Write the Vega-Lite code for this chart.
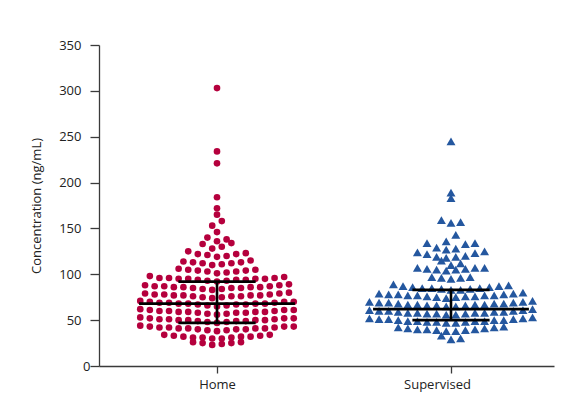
{
  "$schema": "https://vega.github.io/schema/vega-lite/v6.json",
  "width": 455,
  "height": 321,
  "autosize": {"type": "none"},
  "padding": {"left": 99, "top": 45, "right": 22, "bottom": 39},
  "background": "white",
  "config": {
    "view": {"stroke": null},
    "font": "Open Sans",
    "axis": {"grid": false, "domainColor": "#3a3a3a", "tickColor": "#3a3a3a", "labelColor": "#222222", "titleColor": "#222222", "domainWidth": 1.3, "tickWidth": 1.3, "labelFont": "Open Sans", "titleFont": "Open Sans"},
    "axisY": {"tickSize": 9, "labelFontSize": 13, "titleFontSize": 13, "titleFontWeight": "normal", "titlePadding": 15},
    "axisX": {"tickSize": 7, "labelFontSize": 13, "labelPadding": 5}
  },
  "datasets": {
    "summary": [
      {"group": "Home", "median": 68, "q1": 47, "q3": 92},
      {"group": "Supervised", "median": 62, "q1": 50, "q3": 83}
    ],
    "points": [
      {"group": "Home", "value": 23}, {"group": "Home", "value": 24}, {"group": "Home", "value": 25}, {"group": "Home", "value": 25}, {"group": "Home", "value": 26}, {"group": "Home", "value": 26},
      {"group": "Home", "value": 30}, {"group": "Home", "value": 30}, {"group": "Home", "value": 31}, {"group": "Home", "value": 31}, {"group": "Home", "value": 31}, {"group": "Home", "value": 32}, {"group": "Home", "value": 32}, {"group": "Home", "value": 32}, {"group": "Home", "value": 33}, {"group": "Home", "value": 33}, {"group": "Home", "value": 34}, {"group": "Home", "value": 34},
      {"group": "Home", "value": 38}, {"group": "Home", "value": 39}, {"group": "Home", "value": 39}, {"group": "Home", "value": 40}, {"group": "Home", "value": 40}, {"group": "Home", "value": 40}, {"group": "Home", "value": 41}, {"group": "Home", "value": 41}, {"group": "Home", "value": 41}, {"group": "Home", "value": 41}, {"group": "Home", "value": 42}, {"group": "Home", "value": 42}, {"group": "Home", "value": 42}, {"group": "Home", "value": 43}, {"group": "Home", "value": 43}, {"group": "Home", "value": 43}, {"group": "Home", "value": 44},
      {"group": "Home", "value": 47}, {"group": "Home", "value": 48}, {"group": "Home", "value": 48}, {"group": "Home", "value": 49}, {"group": "Home", "value": 49}, {"group": "Home", "value": 49}, {"group": "Home", "value": 50}, {"group": "Home", "value": 50}, {"group": "Home", "value": 50}, {"group": "Home", "value": 50}, {"group": "Home", "value": 51}, {"group": "Home", "value": 51}, {"group": "Home", "value": 51}, {"group": "Home", "value": 52}, {"group": "Home", "value": 52}, {"group": "Home", "value": 52}, {"group": "Home", "value": 53},
      {"group": "Home", "value": 56}, {"group": "Home", "value": 57}, {"group": "Home", "value": 57}, {"group": "Home", "value": 58}, {"group": "Home", "value": 58}, {"group": "Home", "value": 58}, {"group": "Home", "value": 59}, {"group": "Home", "value": 59}, {"group": "Home", "value": 59}, {"group": "Home", "value": 59}, {"group": "Home", "value": 60}, {"group": "Home", "value": 60}, {"group": "Home", "value": 60}, {"group": "Home", "value": 61}, {"group": "Home", "value": 61}, {"group": "Home", "value": 61}, {"group": "Home", "value": 62},
      {"group": "Home", "value": 65}, {"group": "Home", "value": 66}, {"group": "Home", "value": 66}, {"group": "Home", "value": 67}, {"group": "Home", "value": 67}, {"group": "Home", "value": 67}, {"group": "Home", "value": 68}, {"group": "Home", "value": 68}, {"group": "Home", "value": 68}, {"group": "Home", "value": 68}, {"group": "Home", "value": 69}, {"group": "Home", "value": 69}, {"group": "Home", "value": 69}, {"group": "Home", "value": 70}, {"group": "Home", "value": 70}, {"group": "Home", "value": 70}, {"group": "Home", "value": 71},
      {"group": "Home", "value": 74}, {"group": "Home", "value": 75}, {"group": "Home", "value": 75}, {"group": "Home", "value": 76}, {"group": "Home", "value": 76}, {"group": "Home", "value": 76}, {"group": "Home", "value": 77}, {"group": "Home", "value": 77}, {"group": "Home", "value": 77}, {"group": "Home", "value": 77}, {"group": "Home", "value": 78}, {"group": "Home", "value": 78}, {"group": "Home", "value": 78}, {"group": "Home", "value": 79}, {"group": "Home", "value": 79}, {"group": "Home", "value": 80},
      {"group": "Home", "value": 83}, {"group": "Home", "value": 84}, {"group": "Home", "value": 84}, {"group": "Home", "value": 85}, {"group": "Home", "value": 85}, {"group": "Home", "value": 85}, {"group": "Home", "value": 86}, {"group": "Home", "value": 86}, {"group": "Home", "value": 86}, {"group": "Home", "value": 86}, {"group": "Home", "value": 87}, {"group": "Home", "value": 87}, {"group": "Home", "value": 87}, {"group": "Home", "value": 88}, {"group": "Home", "value": 88}, {"group": "Home", "value": 89},
      {"group": "Home", "value": 92}, {"group": "Home", "value": 93}, {"group": "Home", "value": 93}, {"group": "Home", "value": 94}, {"group": "Home", "value": 94}, {"group": "Home", "value": 94}, {"group": "Home", "value": 95}, {"group": "Home", "value": 95}, {"group": "Home", "value": 95}, {"group": "Home", "value": 95}, {"group": "Home", "value": 96}, {"group": "Home", "value": 96}, {"group": "Home", "value": 96}, {"group": "Home", "value": 97}, {"group": "Home", "value": 98},
      {"group": "Home", "value": 101}, {"group": "Home", "value": 102}, {"group": "Home", "value": 103}, {"group": "Home", "value": 103}, {"group": "Home", "value": 104}, {"group": "Home", "value": 104}, {"group": "Home", "value": 105}, {"group": "Home", "value": 105}, {"group": "Home", "value": 106},
      {"group": "Home", "value": 110}, {"group": "Home", "value": 111}, {"group": "Home", "value": 112}, {"group": "Home", "value": 112}, {"group": "Home", "value": 113}, {"group": "Home", "value": 113}, {"group": "Home", "value": 114}, {"group": "Home", "value": 115},
      {"group": "Home", "value": 119}, {"group": "Home", "value": 120}, {"group": "Home", "value": 121}, {"group": "Home", "value": 122}, {"group": "Home", "value": 122}, {"group": "Home", "value": 123}, {"group": "Home", "value": 125},
      {"group": "Home", "value": 128}, {"group": "Home", "value": 130}, {"group": "Home", "value": 133}, {"group": "Home", "value": 134},
      {"group": "Home", "value": 136}, {"group": "Home", "value": 138}, {"group": "Home", "value": 140},
      {"group": "Home", "value": 146}, {"group": "Home", "value": 153}, {"group": "Home", "value": 158}, {"group": "Home", "value": 165}, {"group": "Home", "value": 172}, {"group": "Home", "value": 184}, {"group": "Home", "value": 221}, {"group": "Home", "value": 234}, {"group": "Home", "value": 303},

      {"group": "Supervised", "value": 29}, {"group": "Supervised", "value": 30}, {"group": "Supervised", "value": 33},
      {"group": "Supervised", "value": 38}, {"group": "Supervised", "value": 38}, {"group": "Supervised", "value": 39}, {"group": "Supervised", "value": 39}, {"group": "Supervised", "value": 40}, {"group": "Supervised", "value": 40}, {"group": "Supervised", "value": 40}, {"group": "Supervised", "value": 41}, {"group": "Supervised", "value": 41}, {"group": "Supervised", "value": 42}, {"group": "Supervised", "value": 42}, {"group": "Supervised", "value": 43},
      {"group": "Supervised", "value": 47}, {"group": "Supervised", "value": 47}, {"group": "Supervised", "value": 48}, {"group": "Supervised", "value": 48}, {"group": "Supervised", "value": 48}, {"group": "Supervised", "value": 49}, {"group": "Supervised", "value": 49}, {"group": "Supervised", "value": 49}, {"group": "Supervised", "value": 49}, {"group": "Supervised", "value": 50}, {"group": "Supervised", "value": 50}, {"group": "Supervised", "value": 50}, {"group": "Supervised", "value": 51}, {"group": "Supervised", "value": 51}, {"group": "Supervised", "value": 51}, {"group": "Supervised", "value": 52}, {"group": "Supervised", "value": 52}, {"group": "Supervised", "value": 53},
      {"group": "Supervised", "value": 56}, {"group": "Supervised", "value": 56}, {"group": "Supervised", "value": 57}, {"group": "Supervised", "value": 57}, {"group": "Supervised", "value": 57}, {"group": "Supervised", "value": 58}, {"group": "Supervised", "value": 58}, {"group": "Supervised", "value": 58}, {"group": "Supervised", "value": 58}, {"group": "Supervised", "value": 59}, {"group": "Supervised", "value": 59}, {"group": "Supervised", "value": 59}, {"group": "Supervised", "value": 60}, {"group": "Supervised", "value": 60}, {"group": "Supervised", "value": 60}, {"group": "Supervised", "value": 61}, {"group": "Supervised", "value": 61}, {"group": "Supervised", "value": 62},
      {"group": "Supervised", "value": 65}, {"group": "Supervised", "value": 65}, {"group": "Supervised", "value": 66}, {"group": "Supervised", "value": 66}, {"group": "Supervised", "value": 66}, {"group": "Supervised", "value": 67}, {"group": "Supervised", "value": 67}, {"group": "Supervised", "value": 67}, {"group": "Supervised", "value": 67}, {"group": "Supervised", "value": 68}, {"group": "Supervised", "value": 68}, {"group": "Supervised", "value": 68}, {"group": "Supervised", "value": 69}, {"group": "Supervised", "value": 69}, {"group": "Supervised", "value": 69}, {"group": "Supervised", "value": 70}, {"group": "Supervised", "value": 70}, {"group": "Supervised", "value": 71},
      {"group": "Supervised", "value": 74}, {"group": "Supervised", "value": 75}, {"group": "Supervised", "value": 75}, {"group": "Supervised", "value": 76}, {"group": "Supervised", "value": 76}, {"group": "Supervised", "value": 76}, {"group": "Supervised", "value": 77}, {"group": "Supervised", "value": 77}, {"group": "Supervised", "value": 77}, {"group": "Supervised", "value": 77}, {"group": "Supervised", "value": 78}, {"group": "Supervised", "value": 78}, {"group": "Supervised", "value": 78}, {"group": "Supervised", "value": 79}, {"group": "Supervised", "value": 79}, {"group": "Supervised", "value": 80},
      {"group": "Supervised", "value": 83}, {"group": "Supervised", "value": 83}, {"group": "Supervised", "value": 84}, {"group": "Supervised", "value": 84}, {"group": "Supervised", "value": 85}, {"group": "Supervised", "value": 85}, {"group": "Supervised", "value": 85}, {"group": "Supervised", "value": 86}, {"group": "Supervised", "value": 86}, {"group": "Supervised", "value": 87}, {"group": "Supervised", "value": 87}, {"group": "Supervised", "value": 88}, {"group": "Supervised", "value": 89},
      {"group": "Supervised", "value": 95}, {"group": "Supervised", "value": 96}, {"group": "Supervised", "value": 96}, {"group": "Supervised", "value": 97}, {"group": "Supervised", "value": 97},
      {"group": "Supervised", "value": 104}, {"group": "Supervised", "value": 105}, {"group": "Supervised", "value": 105}, {"group": "Supervised", "value": 106}, {"group": "Supervised", "value": 106}, {"group": "Supervised", "value": 107}, {"group": "Supervised", "value": 107}, {"group": "Supervised", "value": 107},
      {"group": "Supervised", "value": 110}, {"group": "Supervised", "value": 112}, {"group": "Supervised", "value": 115},
      {"group": "Supervised", "value": 118}, {"group": "Supervised", "value": 119}, {"group": "Supervised", "value": 119}, {"group": "Supervised", "value": 120}, {"group": "Supervised", "value": 122}, {"group": "Supervised", "value": 123}, {"group": "Supervised", "value": 124}, {"group": "Supervised", "value": 125},
      {"group": "Supervised", "value": 127}, {"group": "Supervised", "value": 128}, {"group": "Supervised", "value": 129}, {"group": "Supervised", "value": 133}, {"group": "Supervised", "value": 134}, {"group": "Supervised", "value": 134},
      {"group": "Supervised", "value": 136}, {"group": "Supervised", "value": 143},
      {"group": "Supervised", "value": 156}, {"group": "Supervised", "value": 157}, {"group": "Supervised", "value": 159},
      {"group": "Supervised", "value": 183}, {"group": "Supervised", "value": 189}, {"group": "Supervised", "value": 245}
    ]
  },
  "layer": [
    {
      "data": {"name": "points"},
      "transform": [
        {"calculate": "floor(datum.value / 9)", "as": "row"},
        {"window": [{"op": "row_number", "as": "r"}], "groupby": ["group", "row"], "sort": [{"field": "value", "order": "ascending"}]},
        {"joinaggregate": [{"op": "count", "as": "n"}], "groupby": ["group", "row"]},
        {"calculate": "(datum.r - 1) % 2 == 1 ? datum.r / 2 : -(datum.r - 1) / 2", "as": "k"},
        {"calculate": "(datum.group == 'Home' ? 1 : 2) + (datum.k - (datum.n % 2 == 0 ? 0.5 : 0)) * 0.041", "as": "xpos"}
      ],
      "mark": {"type": "point", "filled": true, "opacity": 1, "strokeWidth": 0},
      "encoding": {
        "x": {"field": "xpos", "type": "quantitative", "scale": {"domain": [0.4957, 2.4402]}, "axis": {"values": [1, 2], "labelExpr": "datum.value == 1 ? 'Home' : 'Supervised'", "title": null, "labelOffset": {"condition": {"test": "datum.value == 2", "value": -14}, "value": 0}}},
        "y": {"field": "value", "type": "quantitative", "scale": {"domain": [0, 350]}, "axis": {"values": [0, 50, 100, 150, 200, 250, 300, 350], "title": "Concentration (ng/mL)", "labelPadding": {"condition": {"test": "datum.value === 0", "value": 0}, "value": 9}}},
        "color": {"field": "group", "type": "nominal", "scale": {"domain": ["Home", "Supervised"], "range": ["#b5003d", "#24579f"]}, "legend": null},
        "shape": {"field": "group", "type": "nominal", "scale": {"domain": ["Home", "Supervised"], "range": ["circle", "triangle-up"]}, "legend": null},
        "size": {"field": "group", "type": "ordinal", "scale": {"domain": ["Home", "Supervised"], "range": [44, 80]}, "legend": null}
      }
    },
    {
      "data": {"name": "summary"},
      "transform": [
        {"calculate": "datum.group == 'Home' ? 1 : 2", "as": "gi"},
        {"calculate": "datum.gi - 0.333", "as": "xa"},
        {"calculate": "datum.gi + 0.333", "as": "xb"}
      ],
      "mark": {"type": "rule", "color": "black", "strokeWidth": 2.6},
      "encoding": {
        "x": {"field": "xa", "type": "quantitative", "scale": {"domain": [0.4957, 2.4402]}, "axis": {"values": [1, 2], "labelExpr": "datum.value == 1 ? 'Home' : 'Supervised'", "title": null, "labelOffset": {"condition": {"test": "datum.value == 2", "value": -14}, "value": 0}}},
        "x2": {"field": "xb"},
        "y": {"field": "median", "type": "quantitative", "scale": {"domain": [0, 350]}, "axis": {"values": [0, 50, 100, 150, 200, 250, 300, 350], "title": "Concentration (ng/mL)", "labelPadding": {"condition": {"test": "datum.value === 0", "value": 0}, "value": 9}}}
      }
    },
    {
      "data": {"name": "summary"},
      "transform": [
        {"calculate": "datum.group == 'Home' ? 1 : 2", "as": "gi"},
        {"fold": ["q1", "q3"], "as": ["stat", "sv"]},
        {"calculate": "datum.gi - 0.165", "as": "xa"},
        {"calculate": "datum.gi + 0.165", "as": "xb"}
      ],
      "mark": {"type": "rule", "color": "black", "strokeWidth": 2.6},
      "encoding": {
        "x": {"field": "xa", "type": "quantitative", "scale": {"domain": [0.4957, 2.4402]}, "axis": {"values": [1, 2], "labelExpr": "datum.value == 1 ? 'Home' : 'Supervised'", "title": null, "labelOffset": {"condition": {"test": "datum.value == 2", "value": -14}, "value": 0}}},
        "x2": {"field": "xb"},
        "y": {"field": "sv", "type": "quantitative", "scale": {"domain": [0, 350]}, "axis": {"values": [0, 50, 100, 150, 200, 250, 300, 350], "title": "Concentration (ng/mL)", "labelPadding": {"condition": {"test": "datum.value === 0", "value": 0}, "value": 9}}}
      }
    },
    {
      "data": {"name": "summary"},
      "transform": [
        {"calculate": "datum.group == 'Home' ? 1 : 2", "as": "gi"}
      ],
      "mark": {"type": "rule", "color": "black", "strokeWidth": 2.6},
      "encoding": {
        "x": {"field": "gi", "type": "quantitative", "scale": {"domain": [0.4957, 2.4402]}, "axis": {"values": [1, 2], "labelExpr": "datum.value == 1 ? 'Home' : 'Supervised'", "title": null, "labelOffset": {"condition": {"test": "datum.value == 2", "value": -14}, "value": 0}}},
        "y": {"field": "q1", "type": "quantitative", "scale": {"domain": [0, 350]}, "axis": {"values": [0, 50, 100, 150, 200, 250, 300, 350], "title": "Concentration (ng/mL)", "labelPadding": {"condition": {"test": "datum.value === 0", "value": 0}, "value": 9}}},
        "y2": {"field": "q3"}
      }
    }
  ]
}
